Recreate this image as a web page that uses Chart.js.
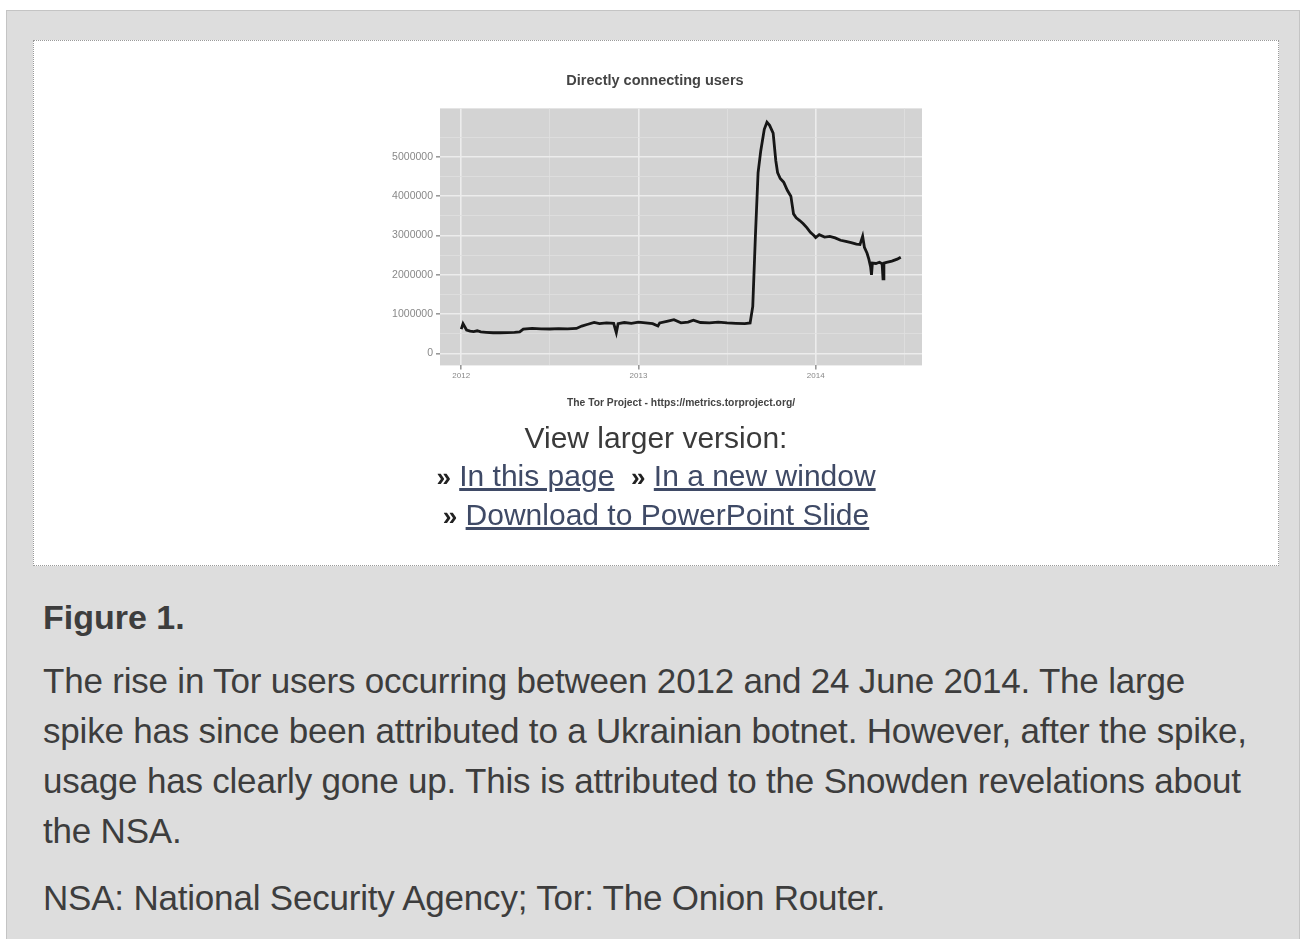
<!DOCTYPE html>
<html>
<head>
<meta charset="utf-8">
<script src="https://cdn.jsdelivr.net/npm/chart.js@4.4.1/dist/chart.umd.min.js"></script>
<style>
  body { margin: 0; background: #fff; font-family: "Liberation Sans", Arial, Helvetica, sans-serif; }
  #box { position: absolute; left: 6px; top: 10px; width: 1292px; height: 940px; background: #dddddd;
         border: 1px solid #c4c4c4; border-bottom: none; }
  #panel { position: absolute; left: 26px; top: 29px; width: 1244px; height: 524px; background: #fff;
           border: 1px dotted #9a9a9a; }
  #chartwrap { position: absolute; left: 336px; top: 20px; width: 570px; height: 360px; }
  #links { position: absolute; left: 0; width: 100%; top: 378px; text-align: center; color: #3a3a3a; font-size: 30px; line-height: 38px; }
  #links a { color: #3f4a66; text-decoration: underline; }
  #links b { color: #222; font-size: 26px; }
  #caption { position: absolute; left: 36px; top: 586px; color: #3d3d3d; white-space: nowrap; }
  #caption h4 { margin: 0; font-size: 34px; font-weight: bold; line-height: 40px; }
  #caption p { margin: 0; font-size: 35px; letter-spacing: -0.2px; line-height: 50px; }
</style>
</head>
<body>
<div id="box">
  <div id="panel">
    <div id="chartwrap"><canvas id="torChart"></canvas></div>
    <div id="links">
      View larger version:<br>
      <b>&raquo;</b> <a>In this page</a>&nbsp;&nbsp;<b>&raquo;</b> <a>In a new window</a><br>
      <b>&raquo;</b> <a>Download to PowerPoint Slide</a>
    </div>
  </div>
  <div id="caption">
    <h4>Figure 1.</h4>
    <p style="margin-top:19px">The rise in Tor users occurring between 2012 and 24 June 2014. The large<br>spike has since been attributed to a Ukrainian botnet. However, after the spike,<br>usage has clearly gone up. This is attributed to the Snowden revelations about<br>the NSA.</p>
    <p style="margin-top:17px">NSA: National Security Agency; Tor: The Onion Router.</p>
  </div>
</div>
<script>
// dates as decimal years
const dates = [
  2012.00, 2012.01, 2012.03, 2012.05, 2012.07, 2012.09, 2012.11, 2012.14, 2012.18, 2012.22,
  2012.26, 2012.30, 2012.33, 2012.35, 2012.40, 2012.45, 2012.50, 2012.55, 2012.60, 2012.65,
  2012.68, 2012.71, 2012.75, 2012.78, 2012.82, 2012.86, 2012.875, 2012.885, 2012.92, 2012.96,
  2013.00, 2013.04, 2013.08, 2013.11, 2013.12, 2013.16, 2013.20, 2013.24, 2013.28, 2013.31,
  2013.35, 2013.40, 2013.45, 2013.50, 2013.55, 2013.60, 2013.63, 2013.645, 2013.66, 2013.675,
  2013.69, 2013.71, 2013.725, 2013.74, 2013.76, 2013.775, 2013.785, 2013.80, 2013.82, 2013.84,
  2013.86, 2013.875, 2013.89, 2013.91, 2013.93, 2013.95, 2013.97, 2013.99, 2014.00, 2014.02,
  2014.05, 2014.08, 2014.11, 2014.14, 2014.17, 2014.20, 2014.23, 2014.25, 2014.265, 2014.275,
  2014.29, 2014.30, 2014.31, 2014.315, 2014.32, 2014.34, 2014.36, 2014.375, 2014.38, 2014.385,
  2014.40, 2014.43, 2014.46, 2014.48
];
const users = [
  620000, 760000, 600000, 570000, 560000, 580000, 550000, 540000, 530000, 530000,
  535000, 540000, 550000, 620000, 640000, 630000, 625000, 635000, 630000, 640000,
  700000, 740000, 790000, 760000, 780000, 770000, 530000, 760000, 790000, 770000,
  800000, 780000, 760000, 700000, 780000, 820000, 860000, 780000, 800000, 850000,
  790000, 780000, 800000, 780000, 770000, 760000, 780000, 1200000, 3000000, 4600000,
  5150000, 5700000, 5880000, 5800000, 5600000, 4900000, 4600000, 4450000, 4350000, 4150000,
  4000000, 3550000, 3450000, 3380000, 3300000, 3200000, 3080000, 3000000, 2950000, 3020000,
  2960000, 2980000, 2940000, 2880000, 2850000, 2820000, 2780000, 2770000, 2980000, 2700000,
  2550000, 2400000, 2200000, 2000000, 2300000, 2290000, 2320000, 2280000, 1900000, 2300000,
  2320000, 2350000, 2400000, 2450000
];
const yearTicks = [2012, 2013, 2014];
const userTicks = [0, 1000000, 2000000, 3000000, 4000000, 5000000];
const footerText = 'The Tor Project - https://metrics.torproject.org/';

const panelBg = {
  id: 'panelBg',
  beforeDraw(chart) {
    const a = chart.chartArea, c = chart.ctx;
    c.save();
    c.fillStyle = '#d3d3d3';
    c.fillRect(a.left, a.top, a.right - a.left, a.bottom - a.top);
    c.restore();
  },
  afterDraw(chart) {
    // footer line is centred under the panel, not the canvas
    const a = chart.chartArea, c = chart.ctx;
    c.save();
    c.fillStyle = '#444';
    c.font = 'bold 10.3px "Liberation Sans"';
    c.textAlign = 'center';
    c.textBaseline = 'middle';
    c.fillText(footerText, (a.left + a.right) / 2, a.bottom + 38);
    c.restore();
  }
};

const isMajorY = v => userTicks.includes(v);
const isMajorX = v => yearTicks.includes(v);

new Chart(document.getElementById('torChart'), {
  type: 'line',
  data: {
    datasets: [{
      data: dates.map((d, i) => ({ x: d, y: users[i] })),
      borderColor: '#161616',
      borderWidth: 2.8,
      pointRadius: 0,
      tension: 0
    }]
  },
  options: {
    responsive: true,
    maintainAspectRatio: false,
    animation: false,
    layout: { padding: { left: 18, right: 18, top: 0, bottom: 38 } },
    plugins: {
      legend: { display: false },
      tooltip: { enabled: false },
      title: {
        display: true, text: 'Directly connecting users', color: '#444',
        font: { family: 'Liberation Sans', size: 14.5, weight: 'bold' },
        padding: { top: 11, bottom: 19 }
      }
    },
    scales: {
      x: {
        type: 'linear', min: 2011.88, max: 2014.6,
        afterBuildTicks(s) { s.ticks = [2012, 2012.5, 2013, 2013.5, 2014, 2014.5].map(v => ({ value: v })); },
        ticks: {
          color: '#888', font: { family: 'Liberation Sans', size: 8 }, padding: 2, maxRotation: 0,
          callback: v => isMajorX(v) ? String(v) : ''
        },
        grid: {
          color: ctx => isMajorX(ctx.tick && ctx.tick.value) ? '#ececec' : '#e0e0e0',
          lineWidth: ctx => isMajorX(ctx.tick && ctx.tick.value) ? 1.6 : 0.8,
          tickColor: ctx => isMajorX(ctx.tick && ctx.tick.value) ? '#999' : 'rgba(0,0,0,0)',
          tickLength: 4
        },
        border: { display: false }
      },
      y: {
        min: -300000, max: 6230000,
        afterBuildTicks(s) {
          const t = [];
          for (let i = 0; i < userTicks.length; i++) {
            t.push({ value: userTicks[i] });
            t.push({ value: userTicks[i] + 500000 });
          }
          s.ticks = t;
        },
        afterFit(s) { s.width = 52; },
        ticks: {
          color: '#888', font: { family: 'Liberation Sans', size: 10.5 }, padding: 3,
          callback: v => isMajorY(v) ? String(v) : ''
        },
        grid: {
          color: ctx => isMajorY(ctx.tick && ctx.tick.value) ? '#ececec' : '#e0e0e0',
          lineWidth: ctx => isMajorY(ctx.tick && ctx.tick.value) ? 1.6 : 0.8,
          tickColor: ctx => isMajorY(ctx.tick && ctx.tick.value) ? '#999' : 'rgba(0,0,0,0)',
          tickLength: 4
        },
        border: { display: false }
      }
    }
  },
  plugins: [panelBg]
});
</script>
</body>
</html>
